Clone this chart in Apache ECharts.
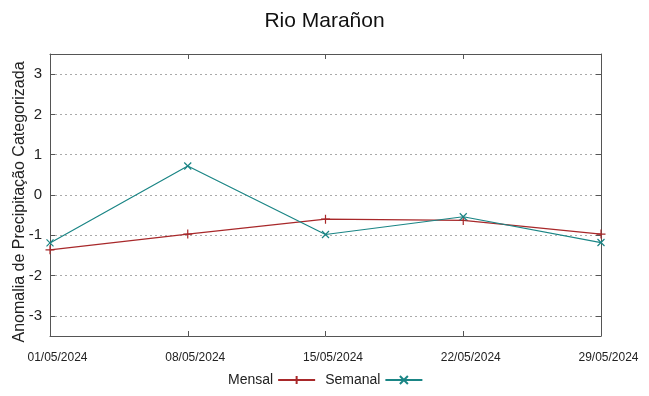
<!DOCTYPE html>
<html>
<head>
<meta charset="utf-8">
<script src="https://cdn.jsdelivr.net/npm/echarts@6/dist/echarts.min.js"></script>
<style>
  html, body { margin: 0; padding: 0; background: #fff; }
  #chart { width: 649px; height: 396px; }
</style>
</head>
<body>
<div id="chart"></div>
<script>
const dates = ["01/05/2024", "08/05/2024", "15/05/2024", "22/05/2024", "29/05/2024"];
const mensal = [-1.36, -0.97, -0.6, -0.63, -0.97];
const semanal = [-1.19, 0.72, -0.98, -0.54, -1.18];
const yTicks = [-3, -2, -1, 0, 1, 2, 3];

const font = "Liberation Sans, Arial, sans-serif";
const axisColor = "#555";
const redColor = "#a8282a";
const tealColor = "#1a8585";

let myChart = echarts.init(document.getElementById("chart"));
let option = {
  backgroundColor: "#fff",
  animation: false,
  textStyle: { fontFamily: font },
  title: {
    text: "Rio Marañon",
    left: "center",
    top: 6,
    textStyle: { fontSize: 21, fontWeight: "normal", color: "#111", fontFamily: font },
  },
  legend: {
    bottom: 4,
    left: 223,
    align: "right",
    itemWidth: 37,
    itemHeight: 10,
    itemGap: 9,
    textStyle: { fontSize: 14, color: "#222", fontFamily: font },
    data: ["Mensal", "Semanal"],
  },
  grid: {
    left: 50, right: 48, top: 54, bottom: 60,
    show: false, containLabel: false, outerBoundsMode: "none",
  },
  xAxis: [
    {
      type: "category",
      boundaryGap: false,
      data: dates,
      axisLine: { onZero: false, lineStyle: { color: axisColor, width: 1 } },
      axisTick: { inside: true, length: 5, lineStyle: { color: axisColor } },
      axisLabel: { fontSize: 12, color: "#222", margin: 16, padding: [0, 0, 0, 15], fontFamily: font },
      splitLine: { show: false },
    },
    {
      type: "category",
      boundaryGap: false,
      position: "top",
      data: dates,
      axisLine: { onZero: false, lineStyle: { color: axisColor, width: 1 } },
      axisTick: { inside: true, length: 5, lineStyle: { color: axisColor } },
      axisLabel: { show: false },
    },
  ],
  yAxis: [
    {
      type: "value",
      min: -3.5,
      max: 3.5,
      name: "Anomalia de Precipitação Categorizada",
      nameLocation: "middle",
      nameGap: 22,
      nameMoveOverlap: false,
      nameTextStyle: { fontSize: 16, color: "#222", fontFamily: font, padding: [0, 14, 0, 0] },
      axisLine: { show: true, onZero: false, lineStyle: { color: axisColor, width: 1 } },
      axisTick: { show: true, inside: true, length: 5, customValues: yTicks, lineStyle: { color: axisColor } },
      axisLabel: { fontSize: 15, color: "#222", margin: 8, fontFamily: font, customValues: yTicks },
      splitLine: { show: true, lineStyle: { color: "#aaa", type: [2, 3], width: 1 } },
    },
    {
      type: "value",
      min: -3.5,
      max: 3.5,
      position: "right",
      axisLine: { show: true, onZero: false, lineStyle: { color: axisColor, width: 1 } },
      axisTick: { show: true, inside: true, length: 5, customValues: yTicks, lineStyle: { color: axisColor } },
      axisLabel: { show: false },
      splitLine: { show: false },
    },
  ],
  series: [
    {
      name: "Mensal",
      type: "line",
      data: mensal,
      symbol: "path://M0,5L10,5M5,0L5,10",
      symbolSize: 9,
      showAllSymbol: true,
      lineStyle: { color: redColor, width: 1.2 },
      itemStyle: { color: "transparent", borderColor: redColor, borderWidth: 1.2 },
    },
    {
      name: "Semanal",
      type: "line",
      data: semanal,
      symbol: "path://M0,0L10,10M10,0L0,10",
      symbolSize: 7,
      showAllSymbol: true,
      lineStyle: { color: tealColor, width: 1.2 },
      itemStyle: { color: "transparent", borderColor: tealColor, borderWidth: 1.2 },
    },
  ],
};
myChart.setOption(option);
</script>
</body>
</html>
